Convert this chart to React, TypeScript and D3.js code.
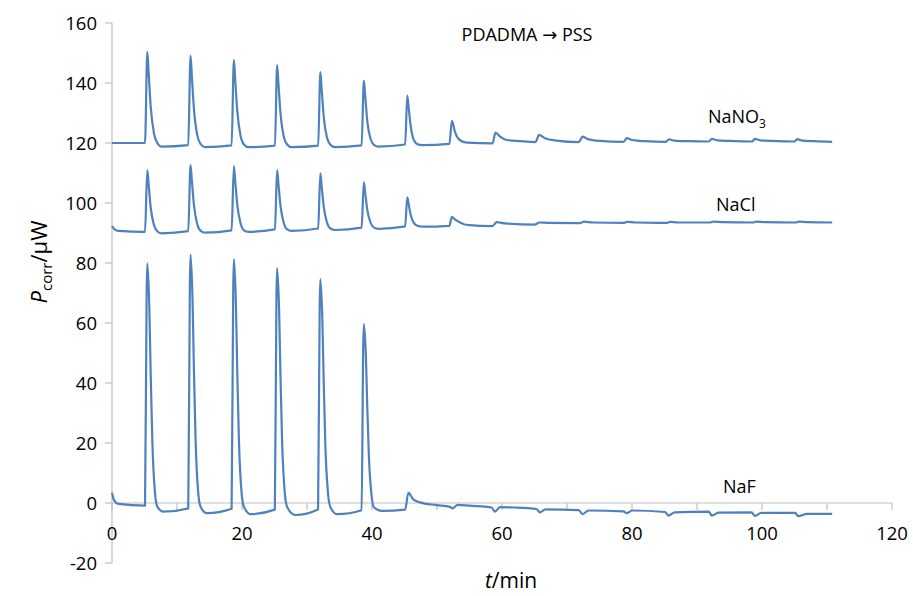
import React from "react";
import * as d3 from "d3";

const W = 913;
const H = 596;

const xTicksMinor = [0, 10, 20, 30, 40, 50, 60, 70, 80, 90, 100, 110, 120];
const xTickLabels = [0, 20, 40, 60, 80, 100, 120];
const yTicks = [-20, 0, 20, 40, 60, 80, 100, 120, 140, 160];

const nano3: [number, number][] = [
  [0, 120.0], [5.08, 120.0],
  [5.43, 150.4], [5.65, 143.0], [5.95, 132.3], [6.45, 123.3], [7.0, 119.9], [7.6, 118.8], [11.73, 119.3],
  [12.08, 149.1], [12.3, 141.8], [12.6, 131.5], [13.1, 122.8], [13.65, 119.6], [14.3, 118.6], [18.4, 119.2],
  [18.75, 147.7], [18.97, 140.5], [19.27, 130.8], [19.77, 122.5], [20.3, 119.5], [21.0, 118.6], [25.07, 119.1],
  [25.4, 146.0], [25.62, 139.3], [25.92, 130.0], [26.42, 122.2], [26.95, 119.5], [27.6, 118.6], [31.72, 119.1],
  [32.05, 143.6], [32.27, 137.5], [32.57, 128.8], [33.07, 121.8], [33.6, 119.4], [34.3, 118.6], [38.4, 119.2],
  [38.75, 140.8], [38.97, 135.3], [39.27, 127.4], [39.77, 121.4], [40.3, 119.4], [41.0, 118.8], [45.1, 119.5],
  [45.43, 135.8], [45.65, 131.5], [45.95, 125.7], [46.45, 120.9], [47.0, 119.6], [47.7, 119.3], [51.9, 119.7],
  [52.3, 127.4], [52.75, 123.8], [53.5, 121.0], [54.6, 120.1], [58.55, 119.9],
  [59.0, 123.5], [59.7, 122.1], [60.7, 121.0], [62.8, 120.6], [65.15, 120.3],
  [65.7, 122.7], [66.6, 121.6], [68.4, 120.8], [71.8, 120.3],
  [72.4, 122.1], [73.2, 121.3], [75.0, 120.7], [78.7, 120.4],
  [79.2, 121.6], [80.0, 121.0], [82.0, 120.6], [85.2, 120.4],
  [85.7, 121.2], [86.5, 120.8], [88.5, 120.6], [91.8, 120.5],
  [92.3, 121.4], [93.1, 120.9], [95.0, 120.7], [98.5, 120.5],
  [98.9, 121.4], [99.7, 120.9], [101.5, 120.7], [105.0, 120.5],
  [105.4, 121.3], [106.2, 120.8], [108.0, 120.6], [110.8, 120.4],
];

const nacl: [number, number][] = [
  [0, 92.3], [0.4, 91.2], [1.0, 90.7], [5.08, 90.4],
  [5.43, 111.0], [5.65, 105.9], [5.95, 98.6], [6.45, 92.7], [7.0, 90.5], [7.6, 89.9], [11.73, 90.6],
  [12.08, 112.6], [12.3, 107.1], [12.6, 99.5], [13.1, 93.1], [13.65, 90.7], [14.3, 90.1], [18.4, 90.9],
  [18.75, 112.3], [18.97, 107.0], [19.27, 99.5], [19.77, 93.3], [20.3, 90.9], [21.0, 90.4], [25.07, 91.2],
  [25.4, 111.0], [25.62, 106.0], [25.92, 99.1], [26.42, 93.4], [26.95, 91.2], [27.6, 90.7], [31.72, 91.5],
  [32.05, 109.9], [32.27, 105.3], [32.57, 98.9], [33.07, 93.5], [33.6, 91.5], [34.3, 91.0], [38.4, 91.8],
  [38.75, 106.9], [38.97, 103.1], [39.27, 97.8], [39.77, 93.5], [40.3, 91.8], [41.0, 91.4], [45.1, 92.2],
  [45.43, 101.9], [45.65, 99.5], [45.95, 96.1], [46.45, 93.3], [47.0, 92.4], [47.7, 92.1], [51.9, 92.4],
  [52.3, 95.4], [52.7, 94.6], [53.3, 93.8], [54.6, 92.7], [58.5, 92.3],
  [59.2, 93.6], [60.5, 93.2], [65.0, 92.8], [65.8, 93.5], [67.0, 93.4], [72.0, 93.3], [72.6, 93.8],
  [74.0, 93.5], [78.8, 93.4], [79.3, 93.7], [80.5, 93.5], [85.4, 93.4], [85.9, 93.7], [87.0, 93.5],
  [92.0, 93.5], [92.5, 93.8], [94.0, 93.6], [98.6, 93.5], [99.1, 93.8], [100.5, 93.6], [105.2, 93.5],
  [105.7, 93.8], [107.0, 93.6], [110.8, 93.5],
];

const naf: [number, number][] = [
  [0, 3.4], [0.3, 1.0], [1.0, -0.3], [5.08, -0.9],
  [5.33, 70.3], [5.43, 79.9], [5.74, 65.4], [5.95, 43.2], [6.2, 21.0], [6.62, 3.2], [6.97, -1.2], [7.9, -2.9], [11.73, -1.8],
  [11.98, 72.9], [12.08, 82.8], [12.39, 67.8], [12.6, 44.7], [12.85, 21.7], [13.27, 3.3], [13.62, -1.2], [14.6, -3.4], [18.4, -1.9],
  [18.65, 71.5], [18.75, 81.3], [19.06, 66.6], [19.27, 43.9], [19.52, 21.3], [19.94, 3.3], [20.29, -1.2], [21.3, -3.7], [25.05, -2.2],
  [25.3, 68.9], [25.4, 78.3], [25.71, 64.2], [25.92, 42.3], [26.17, 20.5], [26.59, 3.2], [26.94, -1.3], [28.2, -4.0], [31.7, -2.2],
  [31.95, 65.6], [32.05, 74.6], [32.36, 61.2], [32.57, 40.3], [32.82, 19.5], [33.24, 3.0], [33.59, -1.3], [34.6, -3.7], [38.4, -2.4],
  [38.65, 52.4], [38.75, 59.6], [39.06, 48.9], [39.27, 32.2], [39.52, 15.6], [39.94, 2.4], [40.29, -1.4], [41.5, -2.6], [45.1, -2.2],
  [45.6, 3.4], [46.35, 1.2], [47.4, 0.2], [49.9, -0.7], [52.0, -1.3], [52.4, -1.8], [53.2, -0.6], [55.0, -0.9],
  [58.4, -1.5], [58.9, -2.9], [59.7, -1.4], [62.0, -1.5], [65.3, -2.0], [65.8, -3.1], [66.7, -2.1],
  [71.8, -2.4], [72.4, -3.7], [73.3, -2.5], [78.7, -2.8], [79.2, -3.4], [80.0, -2.5],
  [85.1, -3.0], [85.6, -4.2], [86.6, -3.1], [91.8, -2.9], [92.3, -4.2], [93.3, -3.2],
  [98.4, -3.1], [98.9, -4.3], [99.9, -3.3], [105.1, -3.3], [105.6, -4.4], [106.9, -3.6], [110.8, -3.6],
];

const seriesList = [nano3, nacl, naf];

const FONT = "'Open Sans', 'DejaVu Sans', sans-serif";
const AXIS = "#bfbfbf";
const LINE = "#4f81bd";

export default function App() {
  const x = d3.scaleLinear().domain([0, 120]).range([112, 892]);
  const y = d3.scaleLinear().domain([-20, 160]).range([563, 23]);
  const line = d3
    .line<[number, number]>()
    .x((d) => x(d[0]))
    .y((d) => y(d[1]))
    .curve(d3.curveMonotoneX);

  return (
    <svg
      width={W}
      height={H}
      style={{ position: "absolute", left: 0, top: 0, background: "#fff" }}
      fontFamily={FONT}
    >
      <rect x={0} y={0} width={W} height={H} fill="#fff" />
      {/* y axis */}
      <line x1={x(0)} x2={x(0)} y1={y(-20)} y2={y(160)} stroke={AXIS} strokeWidth={1.2} />
      {yTicks.map((t) => (
        <g key={"y" + t}>
          <line x1={x(0) - 7} x2={x(0)} y1={y(t)} y2={y(t)} stroke={AXIS} strokeWidth={1.2} />
          <text x={97} y={y(t)} dy="0.36em" textAnchor="end" fontSize={18.5} fill="#000">
            {t}
          </text>
        </g>
      ))}
      {/* x axis at y = 0 */}
      <line x1={x(0)} x2={x(120)} y1={y(0)} y2={y(0)} stroke={AXIS} strokeWidth={1.2} />
      {xTicksMinor.map((t) => (
        <line key={"xt" + t} x1={x(t)} x2={x(t)} y1={y(0)} y2={y(0) + 7} stroke={AXIS} strokeWidth={1.2} />
      ))}
      {xTickLabels.map((t) => (
        <text key={"xl" + t} x={x(t)} y={y(0) + 37} textAnchor="middle" fontSize={18.5} fill="#000">
          {t}
        </text>
      ))}
      {/* series */}
      {seriesList.map((s, i) => (
        <path key={"s" + i} d={line(s) || ""} fill="none" stroke={LINE} strokeWidth={2.2} strokeLinejoin="round" />
      ))}
      {/* labels */}
      <text x={708} y={123} fontSize={18} fill="#000">
        NaNO
        <tspan fontSize={12} dy={5}>3</tspan>
      </text>
      <text x={716} y={211} fontSize={18} fill="#000">NaCl</text>
      <text x={723} y={493} fontSize={18} fill="#000">NaF</text>
      <text x={527} y={41} textAnchor="middle" fontSize={18} fill="#000">
        PDADMA → PSS
      </text>
      {/* axis titles */}
      <text x={511} y={588} textAnchor="middle" fontSize={21} fill="#000">
        <tspan fontStyle="italic">t</tspan>/min
      </text>
      <text transform="translate(47,262) rotate(-90)" textAnchor="middle" fontSize={22} fill="#000">
        <tspan fontStyle="italic">P</tspan>
        <tspan fontSize={15} dy={5}>corr</tspan>
        <tspan dy={-5}>/μW</tspan>
      </text>
    </svg>
  );
}
